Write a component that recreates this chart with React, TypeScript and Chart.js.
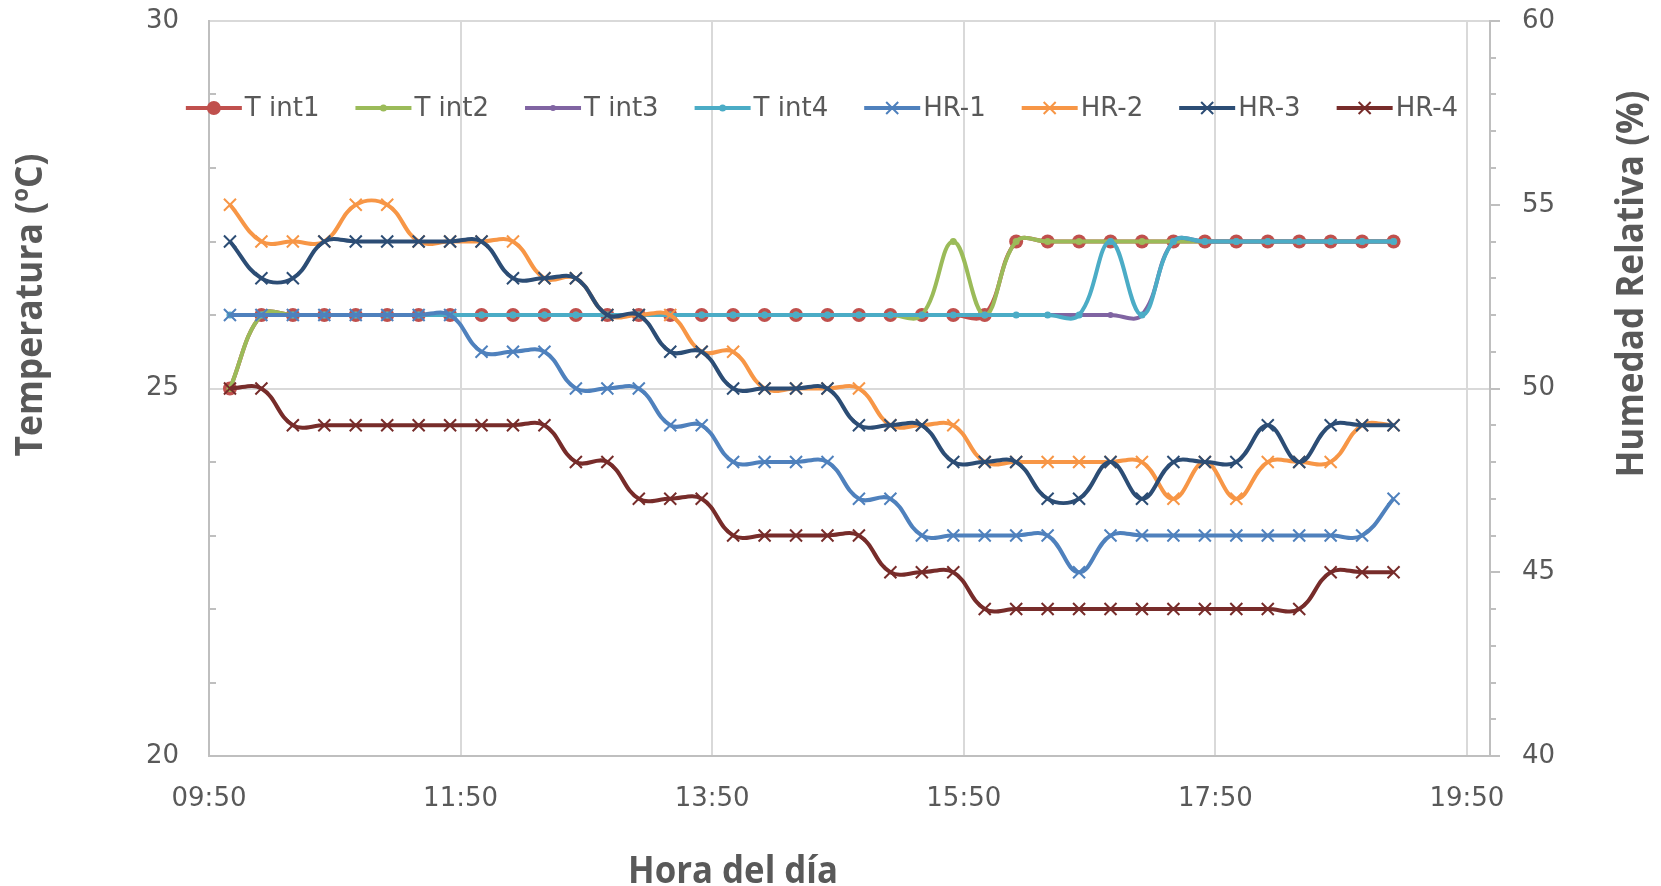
import { useEffect, useRef } from 'react';
import { Chart, registerables } from 'chart.js';

Chart.register(...registerables);

// Sampling times, every 15 minutes
const sampleTimes = [
  '10:00', '10:15', '10:30', '10:45', '11:00', '11:15', '11:30', '11:45',
  '12:00', '12:15', '12:30', '12:45', '13:00', '13:15', '13:30', '13:45',
  '14:00', '14:15', '14:30', '14:45', '15:00', '15:15', '15:30', '15:45',
  '16:00', '16:15', '16:30', '16:45', '17:00', '17:15', '17:30', '17:45',
  '18:00', '18:15', '18:30', '18:45', '19:00', '19:15',
];

// Interior temperatures (ºC)
const tInt1 = [
  25, 26, 26, 26, 26, 26, 26, 26, 26, 26, 26, 26, 26, 26, 26, 26,
  26, 26, 26, 26, 26, 26, 26, 26, 26, 27, 27, 27, 27, 27, 27, 27,
  27, 27, 27, 27, 27, 27,
];
const tInt2 = [
  25, 26, 26, 26, 26, 26, 26, 26, 26, 26, 26, 26, 26, 26, 26, 26,
  26, 26, 26, 26, 26, 26, 26, 27, 26, 27, 27, 27, 27, 27, 27, 27,
  27, 27, 27, 27, 27, 27,
];
const tInt3 = [
  26, 26, 26, 26, 26, 26, 26, 26, 26, 26, 26, 26, 26, 26, 26, 26,
  26, 26, 26, 26, 26, 26, 26, 26, 26, 26, 26, 26, 26, 26, 27, 27,
  27, 27, 27, 27, 27, 27,
];
const tInt4 = [
  26, 26, 26, 26, 26, 26, 26, 26, 26, 26, 26, 26, 26, 26, 26, 26,
  26, 26, 26, 26, 26, 26, 26, 26, 26, 26, 26, 26, 27, 26, 27, 27,
  27, 27, 27, 27, 27, 27,
];

// Relative humidity (%)
const hr1 = [
  52, 52, 52, 52, 52, 52, 52, 52, 51, 51, 51, 50, 50, 50, 49, 49,
  48, 48, 48, 48, 47, 47, 46, 46, 46, 46, 46, 45, 46, 46, 46, 46,
  46, 46, 46, 46, 46, 47,
];
const hr2 = [
  55, 54, 54, 54, 55, 55, 54, 54, 54, 54, 53, 53, 52, 52, 52, 51,
  51, 50, 50, 50, 50, 49, 49, 49, 48, 48, 48, 48, 48, 48, 47, 48,
  47, 48, 48, 48, 49, 49,
];
const hr3 = [
  54, 53, 53, 54, 54, 54, 54, 54, 54, 53, 53, 53, 52, 52, 51, 51,
  50, 50, 50, 50, 49, 49, 49, 48, 48, 48, 47, 47, 48, 47, 48, 48,
  48, 49, 48, 49, 49, 49,
];
const hr4 = [
  50, 50, 49, 49, 49, 49, 49, 49, 49, 49, 49, 48, 48, 47, 47, 47,
  46, 46, 46, 46, 46, 45, 45, 45, 44, 44, 44, 44, 44, 44, 44, 44,
  44, 44, 44, 45, 45, 45,
];

// Axis tick labels
const timeTickLabels = ['09:50', '11:50', '13:50', '15:50', '17:50', '19:50'];
const tempTicks = [20, 25, 30];
const humidityTicks = [40, 45, 50, 55, 60];

const seriesNames = ['T int1', 'T int2', 'T int3', 'T int4', 'HR-1', 'HR-2', 'HR-3', 'HR-4'];
const seriesValues = [tInt1, tInt2, tInt3, tInt4, hr1, hr2, hr3, hr4];

type Marker = 'circle' | 'crossRot';
const seriesStyles: { color: string; marker: Marker; radius: number; axis: string }[] = [
  { color: '#C0504D', marker: 'circle', radius: 7, axis: 'yT' },
  { color: '#9BBB59', marker: 'circle', radius: 3.5, axis: 'yT' },
  { color: '#8064A2', marker: 'circle', radius: 3, axis: 'yT' },
  { color: '#4BACC6', marker: 'circle', radius: 3.5, axis: 'yT' },
  { color: '#4F81BD', marker: 'crossRot', radius: 8.5, axis: 'yH' },
  { color: '#F79646', marker: 'crossRot', radius: 8.5, axis: 'yH' },
  { color: '#2C4D75', marker: 'crossRot', radius: 8.5, axis: 'yH' },
  { color: '#772C2A', marker: 'crossRot', radius: 8.5, axis: 'yH' },
];

const TEXT_COLOR = '#595959';
const AXIS_COLOR = '#bfbfbf';
const GRID_COLOR = '#d9d9d9';
const LINE_WIDTH = 4;
const TICK_FONT = { family: '"DejaVu Sans", sans-serif', size: 26 };
const TITLE_FONT = 'bold 37px "Open Sans", "DejaVu Sans", sans-serif';

const toMinutes = (s: string) => {
  const [h, m] = s.split(':').map(Number);
  return h * 60 + m;
};
const fmtMinutes = (v: number) => {
  const h = Math.floor(v / 60);
  const m = Math.round(v - h * 60);
  return `${String(h).padStart(2, '0')}:${String(m).padStart(2, '0')}`;
};

const sampleMinutes = sampleTimes.map(toMinutes);
const timeTickMinutes = timeTickLabels.map(toMinutes);

function drawMarker(ctx: CanvasRenderingContext2D, marker: Marker, x: number, y: number, r: number, color: string) {
  ctx.save();
  if (marker === 'circle') {
    ctx.fillStyle = color;
    ctx.beginPath();
    ctx.arc(x, y, r, 0, Math.PI * 2);
    ctx.fill();
  } else {
    const o = r * Math.SQRT1_2;
    ctx.strokeStyle = color;
    ctx.lineWidth = 2;
    ctx.beginPath();
    ctx.moveTo(x - o, y - o);
    ctx.lineTo(x + o, y + o);
    ctx.moveTo(x - o, y + o);
    ctx.lineTo(x + o, y - o);
    ctx.stroke();
  }
  ctx.restore();
}

function drawFittedText(
  ctx: CanvasRenderingContext2D,
  text: string,
  x: number,
  y: number,
  angle: number,
  length: number,
) {
  ctx.save();
  ctx.font = TITLE_FONT;
  ctx.fillStyle = TEXT_COLOR;
  ctx.translate(x, y);
  ctx.rotate(angle);
  const w = ctx.measureText(text).width;
  ctx.scale(length / w, 1);
  ctx.textAlign = 'center';
  ctx.textBaseline = 'alphabetic';
  ctx.fillText(text, 0, 0);
  ctx.restore();
}

// Keeps the plot area where the layout padding and fixed axis sizes put it
const noLabelOverhang = (scale: any) => {
  scale.paddingTop = 0;
  scale.paddingBottom = 0;
  scale.paddingLeft = 0;
  scale.paddingRight = 0;
};

// Minor tick marks, in-plot legend and axis titles
const decorations = {
  id: 'decorations',
  beforeDatasetsDraw(chart: any) {
    const { ctx, chartArea } = chart;
    const yT = chart.scales.yT;
    const yH = chart.scales.yH;
    ctx.save();
    ctx.strokeStyle = AXIS_COLOR;
    ctx.lineWidth = 2;
    ctx.beginPath();
    for (let v = yT.min + 1; v < yT.max; v++) {
      if (v % 5 === 0) continue;
      const y = Math.round(yT.getPixelForValue(v));
      ctx.moveTo(chartArea.left, y);
      ctx.lineTo(chartArea.left + 7, y);
    }
    for (let v = yH.min; v <= yH.max; v++) {
      const y = Math.round(yH.getPixelForValue(v));
      const len = v % 5 === 0 ? 10 : 6;
      ctx.moveTo(chartArea.right, y);
      ctx.lineTo(chartArea.right + len, y);
    }
    ctx.stroke();
    ctx.restore();
  },
  afterDraw(chart: any) {
    const { ctx } = chart;

    // Legend row across the top of the plot
    ctx.save();
    ctx.font = `${TICK_FONT.size}px ${TICK_FONT.family}`;
    ctx.textBaseline = 'middle';
    ctx.textAlign = 'left';
    const lineLen = 56;
    const textGap = 3;
    const itemGap = 36;
    const widths = seriesNames.map((n) => lineLen + textGap + ctx.measureText(n).width);
    const total = widths.reduce((a, b) => a + b, 0) + itemGap * (widths.length - 1);
    let x = 822 - total / 2;
    const y = 108;
    seriesNames.forEach((name, i) => {
      const st = seriesStyles[i];
      ctx.strokeStyle = st.color;
      ctx.lineWidth = LINE_WIDTH;
      ctx.beginPath();
      ctx.moveTo(x, y);
      ctx.lineTo(x + lineLen, y);
      ctx.stroke();
      drawMarker(ctx, st.marker, x + lineLen / 2, y, st.radius, st.color);
      ctx.fillStyle = TEXT_COLOR;
      ctx.fillText(name, x + lineLen + textGap, y + 1);
      x += widths[i] + itemGap;
    });
    ctx.restore();

    // Axis titles
    drawFittedText(ctx, 'Temperatura (ºC)', 42, 305, -Math.PI / 2, 303);
    drawFittedText(ctx, 'Humedad Relativa (%)', 1643, 284, -Math.PI / 2, 387);
    drawFittedText(ctx, 'Hora del día', 733, 883, 0, 210);
  },
};

export default function App() {
  const canvasRef = useRef<HTMLCanvasElement>(null);

  useEffect(() => {
    document.body.style.margin = '0';
    const canvas = canvasRef.current;
    if (!canvas) return;

    const datasets = seriesNames.map((name, i) => {
      const st = seriesStyles[i];
      return {
        label: name,
        data: sampleMinutes.map((x, j) => ({ x, y: seriesValues[i][j] })),
        yAxisID: st.axis,
        borderColor: st.color,
        backgroundColor: st.color,
        borderWidth: LINE_WIDTH,
        pointStyle: st.marker,
        pointRadius: st.radius,
        pointBorderWidth: st.marker === 'crossRot' ? 2 : 0,
        pointBorderColor: st.color,
        pointBackgroundColor: st.color,
        tension: 0.4,
        fill: false,
        order: seriesNames.length - 1 - i,
      };
    });

    const chart = new Chart(canvas, {
      type: 'line',
      data: { datasets },
      plugins: [decorations],
      options: {
        animation: false,
        responsive: false,
        devicePixelRatio: 1,
        events: [],
        layout: { padding: { top: 21, left: 0, right: 0, bottom: 0 } },
        plugins: {
          legend: { display: false },
          tooltip: { enabled: false },
          title: { display: false },
        },
        scales: {
          x: {
            type: 'linear',
            min: 590,
            max: 1201,
            afterBuildTicks: (scale: any) => {
              scale.ticks = timeTickMinutes.map((value) => ({ value }));
            },
            afterFit: (scale: any) => {
              scale.height = 130;
              noLabelOverhang(scale);
            },
            ticks: {
              callback: (v: any) => fmtMinutes(Number(v)),
              font: TICK_FONT,
              color: TEXT_COLOR,
              padding: 28,
              maxRotation: 0,
              autoSkip: false,
            },
            grid: { color: GRID_COLOR, lineWidth: 2, drawTicks: false },
            border: { color: AXIS_COLOR, width: 2 },
          },
          yT: {
            type: 'linear',
            position: 'left',
            min: 20,
            max: 30,
            afterBuildTicks: (scale: any) => {
              scale.ticks = tempTicks.map((value) => ({ value }));
            },
            afterFit: (scale: any) => {
              scale.width = 209;
              noLabelOverhang(scale);
            },
            ticks: { font: TICK_FONT, color: TEXT_COLOR, padding: 30, autoSkip: false },
            grid: {
              color: (c: any) => (c.tick && c.tick.value === 20 ? 'rgba(0,0,0,0)' : GRID_COLOR),
              lineWidth: 2,
              drawTicks: false,
            },
            border: { color: AXIS_COLOR, width: 2 },
          },
          yH: {
            type: 'linear',
            position: 'right',
            min: 40,
            max: 60,
            afterBuildTicks: (scale: any) => {
              scale.ticks = humidityTicks.map((value) => ({ value }));
            },
            afterFit: (scale: any) => {
              scale.width = 171;
              noLabelOverhang(scale);
            },
            ticks: { font: TICK_FONT, color: TEXT_COLOR, padding: 32, autoSkip: false },
            grid: { drawOnChartArea: false, drawTicks: false },
            border: { color: AXIS_COLOR, width: 2 },
          },
        },
      } as any,
    } as any);

    return () => chart.destroy();
  }, []);

  return (
    <div style={{ width: 1661, height: 886, background: '#ffffff' }}>
      <canvas ref={canvasRef} width={1661} height={886} style={{ display: 'block', width: 1661, height: 886 }} />
    </div>
  );
}
